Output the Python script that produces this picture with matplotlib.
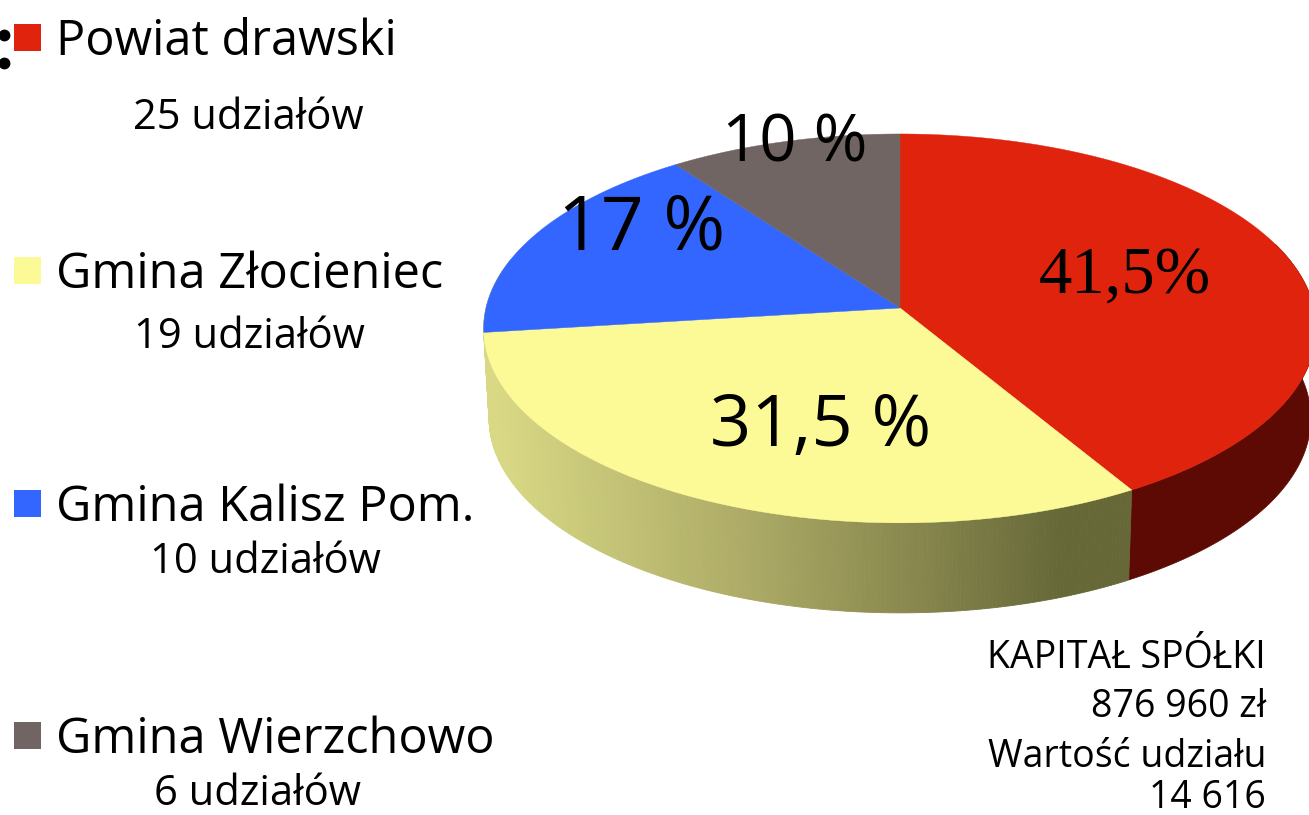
#!/usr/bin/env python3
"""Perspective 3D pie of the shares in the company, with a text legend on the left."""
import numpy as np
import matplotlib
matplotlib.use('Agg')
import matplotlib.pyplot as plt
from matplotlib.colors import to_rgb
from matplotlib.patches import Polygon, Rectangle

# data
names = ['Powiat drawski', 'Gmina Złocieniec', 'Gmina Kalisz Pom.', 'Gmina Wierzchowo']
shares = [41.5, 31.5, 17, 10]
share_labels = ['41,5%', '31,5 %', '17 %', '10 %']
unit_labels = ['25 udziałów', '19 udziałów', '10 udziałów', '6 udziałów']
info_lines = ['KAPITAŁ SPÓŁKI', '876 960 zł', 'Wartość udziału', '14 616']

colors = ['#E0230D', '#FCFA96', '#3366FF', '#716563']
RED_SIDE = '#5C0A03'
FONT = 'Open Sans'

# pie geometry, in pixels
CX, CY = 900, 308
RX, A, C = 414, 192.3, 0.105
DEPTH, SHRINK = 90, 0.987


def top_edge(theta):
    """Project rim points (degrees clockwise from 12 o'clock) to the picture."""
    t = np.radians(theta)
    w = 1 + C * np.cos(t)
    return CX + RX * np.sin(t) / w, CY - A * np.cos(t) / w


def bottom_edge(theta):
    x, y = top_edge(theta)
    return CX + (x - CX) * SHRINK, y + DEPTH


def side_color(x):
    stops = ['#D9D985', '#A8A663', '#666838', '#666838']
    rgb = np.array([to_rgb(c) for c in stops])
    xs = [495, 770, 1060, 1130]
    return [float(np.interp(x, xs, rgb[:, i])) for i in range(3)]


fig = plt.figure(figsize=(13.09, 8.15), dpi=100)
ax = fig.add_axes([0, 0, 1, 1])
ax.set_xlim(0, 1309)
ax.set_ylim(815, 0)
ax.axis('off')

bounds = np.concatenate([[0], np.cumsum(shares) * 3.6])

# side walls first, the top covers whatever is behind it
th = np.linspace(70, bounds[1], 80)
xy = np.vstack([np.column_stack(top_edge(th)), np.column_stack(bottom_edge(th[::-1]))])
ax.add_patch(Polygon(xy, fc=RED_SIDE, ec=RED_SIDE, lw=0.5, zorder=1))

edges = np.linspace(bounds[1], 285, 260)
for t0, t1 in zip(edges[:-1], edges[1:]):
    quad = np.array([top_edge(t0), top_edge(t1), bottom_edge(t1), bottom_edge(t0)])
    col = side_color(quad[:, 0].mean())
    ax.add_patch(Polygon(quad, fc=col, ec=col, lw=0.6, zorder=1))

# top of the pie
for i, col in enumerate(colors):
    th = np.linspace(bounds[i], bounds[i + 1], 120)
    rim = np.column_stack(top_edge(th))
    ax.add_patch(Polygon(np.vstack([[CX, CY], rim]), fc=col, ec=col, lw=0.3, zorder=2))

# share labels on the pie
share_pos = [(1125, 293), (821, 446), (642, 249), (795, 162)]
share_size = [48, 52, 54, 47]
for i, lab in enumerate(share_labels):
    fam = 'Liberation Serif' if i == 0 else FONT
    ax.text(share_pos[i][0], share_pos[i][1], lab, fontsize=share_size[i], family=fam,
            ha='center', va='baseline', color='black', zorder=3)

# legend
square_y = [24, 257, 490, 722]
name_y = [55, 288, 521, 753]
unit_x = [248, 249, 265, 258]
unit_y = [129, 348, 573, 805]
for i, name in enumerate(names):
    ax.add_patch(Rectangle((14, square_y[i]), 27, 27, fc=colors[i], ec='none', zorder=2))
    ax.text(56, name_y[i], name, fontsize=35, family=FONT, ha='left', va='baseline')
    ax.text(unit_x[i], unit_y[i], unit_labels[i], fontsize=30, family=FONT,
            ha='center', va='baseline')

# the two bullets cut off at the left edge
ax.plot([4, 4], [35, 63], 'o', color='black', markersize=7.5, zorder=3)

# capital info, bottom right
info_y = [668, 717, 767, 808]
for line, y in zip(info_lines, info_y):
    ax.text(1266, y, line, fontsize=27, family=FONT, ha='right', va='baseline')

fig.savefig('out.png', dpi=100)
